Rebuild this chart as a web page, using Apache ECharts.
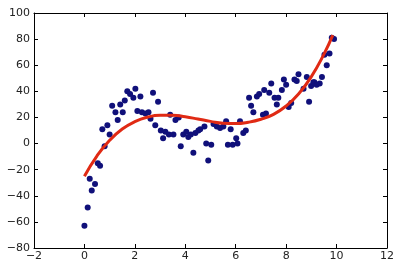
<!DOCTYPE html>
<html><head><meta charset="utf-8">
<script src="https://cdn.jsdelivr.net/npm/echarts@6/dist/echarts.min.js"></script>
<style>html,body{margin:0;padding:0;background:#fff}#c{width:400px;height:269px}</style>
</head><body><div id="c"></div>
<script>
const scatterX = [0.00,0.13,0.21,0.29,0.42,0.53,0.62,0.80,0.71,0.91,1.00,1.10,1.23,1.32,1.42,1.52,1.60,1.70,1.81,1.94,2.02,2.10,2.22,2.28,2.42,2.54,2.62,2.72,2.81,2.92,3.03,3.12,3.21,3.35,3.40,3.53,3.61,3.74,3.82,3.92,4.04,4.12,4.22,4.32,4.40,4.52,4.59,4.76,4.83,4.91,5.03,5.12,5.25,5.38,5.51,5.62,5.69,5.80,5.88,6.02,6.07,6.17,6.30,6.40,6.53,6.61,6.70,6.84,6.93,7.08,7.13,7.20,7.33,7.41,7.54,7.63,7.69,7.83,7.91,8.00,8.10,8.20,8.33,8.42,8.49,8.69,8.82,8.91,8.99,9.08,9.12,9.21,9.33,9.42,9.52,9.61,9.72,9.81,9.90];
const scatterY = [-63,-49,-27,-36,-31,-15,-17,-2,11,14,7,29,24,18,30,24,33,40,38,35,42,25,36,24,23,24,19,39,14,32,10,4,9,7,22,7,18,20,-2,7,9,5,7,-7,8,10,11,13,0,-13,-1,15,13,12,13,17,-1,11,-1,4,0,17,8,10,35,29,24,36,38,22,41,23,39,46,35,30,35,41,49,45,28,31,49,48,53,42,51,32,44,47,47,45,46,51,68,60,69,81,80];
const fitX = [0,0.5,1,1.5,2,2.5,3,3.5,4,4.5,5,5.5,6,6.5,7,7.5,8,8.5,9,9.5,9.85];
const fitY = [-25,-9.4,2.5,11.1,16.8,20.2,21.6,21.6,20.5,18.8,17,15.6,15.3,16.3,18.6,22.4,28.8,38.1,51.3,68.5,83];
const xTicks = [-2,0,2,4,6,8,10,12];
const yTicks = [-80,-60,-40,-20,0,20,40,60,80,100];

const fmt = v => String(v).replace('-', '\u2212');
const pts = scatterX.map((x,i)=>[x,scatterY[i]]);
const line = fitX.map((x,i)=>[x,fitY[i]]);
const axLine = {show:true, onZero:false, lineStyle:{color:'#000', width:1}};
const tick = {show:true, inside:true, length:4, lineStyle:{color:'#000', width:1}};
const lbl = {color:'#222', fontSize:11, fontFamily:'DejaVu Sans'};
const chart = echarts.init(document.getElementById('c'));
chart.setOption({
  animation:false,
  grid:{left:34, right:13, top:13, bottom:21, show:false},
  xAxis:[
    {type:'value', min:xTicks[0], max:xTicks[xTicks.length-1], interval:2, position:'bottom',
     axisLine:axLine, axisTick:tick, splitLine:{show:false},
     axisLabel:Object.assign({margin:3, formatter:fmt}, lbl)},
    {type:'value', min:xTicks[0], max:xTicks[xTicks.length-1], interval:2, position:'top',
     axisLine:axLine, axisTick:tick, splitLine:{show:false}, axisLabel:{show:false}}
  ],
  yAxis:[
    {type:'value', min:yTicks[0], max:yTicks[yTicks.length-1], interval:20, position:'left',
     axisLine:axLine, axisTick:tick, splitLine:{show:false},
     axisLabel:Object.assign({margin:4, formatter:fmt}, lbl)},
    {type:'value', min:yTicks[0], max:yTicks[yTicks.length-1], interval:20, position:'right',
     axisLine:axLine, axisTick:tick, splitLine:{show:false}, axisLabel:{show:false}}
  ],
  series:[
    {type:'scatter', data:pts, symbolSize:6, itemStyle:{color:'#10107a', opacity:1}, z:2},
    {type:'line', data:line, smooth:true, showSymbol:false, lineStyle:{color:'#e02a14', width:3}, z:3}
  ]
});
</script></body></html>
